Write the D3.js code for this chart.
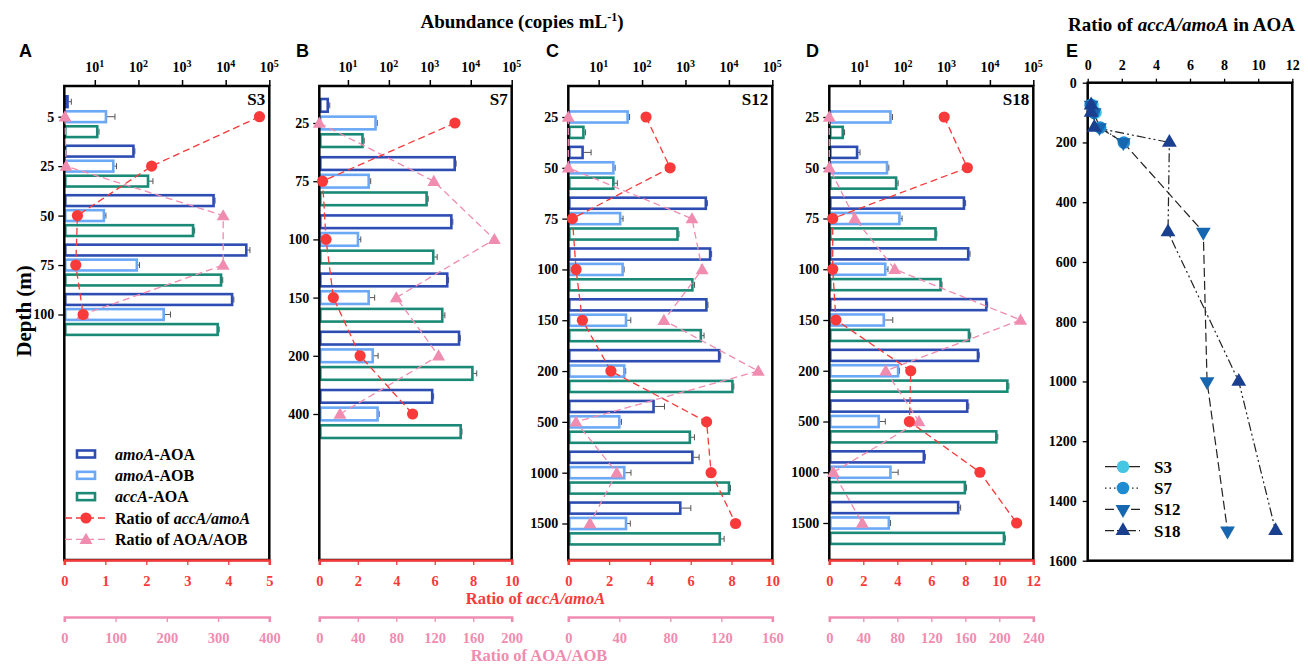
<!DOCTYPE html>
<html>
<head>
<meta charset="utf-8">
<script src="https://cdn.jsdelivr.net/npm/d3@7"></script>
<style>
  body { margin: 0; background: #fff; }
  text { font-family: "Liberation Serif", "Times New Roman", serif; font-weight: bold; }
</style>
</head>
<body>
<script>
var W = 1308, H = 667;
var RED = '#f83a3a', PINK = '#f08cb0', NAVY = '#2d4db3', SKY = '#6ba8f6', TEAL = '#1a8a77';

// ---- data ----
var depthsS3 = [5, 25, 50, 75, 100];
var depthsS7 = [25, 75, 100, 150, 200, 400];
var depthsS12 = [25, 50, 75, 100, 150, 200, 500, 1000, 1500];
var depthsS18 = [25, 50, 75, 100, 150, 200, 500, 1000, 1500];

// copies per mL, null = no bar
var aoaS3 = [2.5, 81, 5560, 31300, 14800];
var aoaSdS3 = [0.4, 2, 150, 4700, 600];
var aobS3 = [19, 28, 17, 97, 400];
var aobSdS3 = [10, 3.5, 1, 9, 145];
var accS3 = [12, 175, 1885, 8260, 6900];
var accSdS3 = [0.5, 40, 60, 300, 200];
var ratioAccS3 = [4.76, 2.13, 0.32, 0.28, 0.46];
var ratioAobS3 = [1.4, 3.3, 310, 310, 36];

var aoaS7 = [3.4, 4290, 3550, 2820, 5470, 1210];
var aoaSdS7 = [0.2, 100, 100, 50, 100, 30];
var aobS7 = [50, 34, 18.6, 34, 42.6, 56];
var aobSdS7 = [2, 2, 2, 11, 12, 2];
var accS7 = [24, 883, 1283, 2130, 11600, 6000];
var accSdS7 = [1, 30, 230, 200, 2400, 100];
var ratioAccS7 = [7.05, 0.17, 0.35, 0.73, 2.12, 4.85];
var ratioAobS7 = [0, 119, 182, 80, 124, 21.5];

var aoaS12 = [null, 4.5, 3100, 3900, 3200, 6300, 194, 1520, 800];
var aoaSdS12 = [0, 2.2, 100, 100, 100, 200, 135, 540, 530];
var aobS12 = [49, 23, 33, 37.6, 45, 41, 31.5, 41, 45];
var aobSdS12 = [2.5, 1, 3.5, 1, 10, 1, 2, 14.6, 8.6];
var accS12 = [4.7, 23, 690, 1520, 2380, 12700, 1330, 10600, 6500];
var accSdS12 = [0.3, 4, 20, 100, 300, 300, 280, 300, 1270];
var ratioAccS12 = [3.81, 4.99, 0.2, 0.38, 0.69, 2.09, 6.78, 7.0, 8.2];
var ratioAobS12 = [0, 0, 97, 105, 75, 149, 6, 38, 17];

var aoaS18 = [null, 9.2, 2660, 3340, 8700, 5600, 3170, 317, 1960];
var aoaSdS18 = [0, 1, 100, 150, 200, 100, 100, 10, 160];
var aobS18 = [54, 45, 87, 41, 38, 81, 29, 54, 49.5];
var aobSdS18 = [3, 2, 8, 4, 20, 2, 10, 23, 2];
var accS18 = [4.3, 73, 590, 770, 3470, 26600, 14800, 2800, 22200];
var accSdS18 = [0.2, 4, 10, 20, 150, 800, 400, 100, 500];
var ratioAccS18 = [6.76, 8.12, 0.2, 0.2, 0.39, 4.79, 4.71, 8.86, 11.02];
var ratioAobS18 = [0, 0, 30, 77, 225, 66.4, 105.5, 4.7, 38.8];

// panel E: accA/amoA ratio against depth
var eDepthsS3 = [75, 100];
var eRatioS3 = [0.28, 0.46];
var eDepthsS7 = [75, 100, 150, 200];
var eRatioS7 = [0.17, 0.35, 0.73, 2.12];
var eDepthsS12 = [75, 100, 150, 200, 500, 1000, 1500];
var eRatioS12 = [0.2, 0.38, 0.69, 2.09, 6.78, 7.0, 8.2];
var eDepthsS18 = [75, 100, 150, 200, 500, 1000, 1500];
var eRatioS18 = [0.2, 0.2, 0.39, 4.79, 4.71, 8.86, 11.02];

var logTicks = [10, 100, 1000, 1e4, 1e5];

var svg = d3.select('body').append('svg')
    .attr('xmlns', 'http://www.w3.org/2000/svg')
    .attr('width', W).attr('height', H);

function rich(sel, parts) {
  parts.forEach(function (p) {
    sel.append('tspan').text(p[0]).style('font-style', p[1] ? 'italic' : 'normal');
  });
  return sel;
}

var plotTop = 86, plotBottom = 560, pinkY = 617;

var panels = [
  {letter: 'A', station: 'S3', depths: depthsS3, aoa: aoaS3, aoaSd: aoaSdS3, aob: aobS3, aobSd: aobSdS3,
   acc: accS3, accSd: accSdS3, rAcc: ratioAccS3, rAob: ratioAobS3,
   x0: 64.3, x1: 269.3, yFirst: 116.7, yLast: 314.5, accMax: 5, accStep: 1, aobMax: 400, aobStep: 100, letterX: 19},
  {letter: 'B', station: 'S7', depths: depthsS7, aoa: aoaS7, aoaSd: aoaSdS7, aob: aobS7, aobSd: aobSdS7,
   acc: accS7, accSd: accSdS7, rAcc: ratioAccS7, rAob: ratioAobS7,
   x0: 319.3, x1: 511.7, yFirst: 123, yLast: 414, accMax: 10, accStep: 2, aobMax: 200, aobStep: 40, letterX: 296},
  {letter: 'C', station: 'S12', depths: depthsS12, aoa: aoaS12, aoaSd: aoaSdS12, aob: aobS12, aobSd: aobSdS12,
   acc: accS12, accSd: accSdS12, rAcc: ratioAccS12, rAob: ratioAobS12,
   x0: 568.3, x1: 772.3, yFirst: 117, yLast: 523.5, accMax: 10, accStep: 2, aobMax: 160, aobStep: 40, letterX: 546},
  {letter: 'D', station: 'S18', depths: depthsS18, aoa: aoaS18, aoaSd: aoaSdS18, aob: aobS18, aobSd: aobSdS18,
   acc: accS18, accSd: accSdS18, rAcc: ratioAccS18, rAob: ratioAobS18,
   x0: 829.3, x1: 1033.3, yFirst: 117, yLast: 523, accMax: 12, accStep: 2, aobMax: 240, aobStep: 40, letterX: 806}
];

var tri = d3.symbol().type(d3.symbolTriangle).size(72);
var intFmt = d3.format('~g');

panels.forEach(function (p) {
  var g = svg.append('g');
  var x = d3.scaleLog().domain([2, 1e5]).range([p.x0, p.x1]);
  var y = d3.scalePoint().domain(p.depths).range([p.yFirst, p.yLast]);
  var xr = d3.scaleLinear().domain([0, p.accMax]).range([p.x0, p.x1]);
  var xp = d3.scaleLinear().domain([0, p.aobMax]).range([p.x0, p.x1]);
  var step = y.step() / 3.3, bh = step * 0.72;

  var series = [
    {vals: p.aoa, sd: p.aoaSd, color: NAVY, off: -1},
    {vals: p.aob, sd: p.aobSd, color: SKY, off: 0},
    {vals: p.acc, sd: p.accSd, color: TEAL, off: 1}
  ];

  series.forEach(function (s) {
    var rows = p.depths.map(function (d, i) { return {d: d, v: s.vals[i], sd: s.sd[i]}; })
        .filter(function (r) { return r.v != null; });
    var yc = function (r) { return y(r.d) + s.off * step; };

    // error bars
    g.selectAll(null).data(rows).enter().append('path')
        .attr('d', function (r) {
          var a = x(r.v), b = x(r.v + r.sd), c = yc(r);
          return 'M' + a + ',' + c + 'H' + b + 'M' + b + ',' + (c - 3) + 'V' + (c + 3);
        })
        .attr('stroke', '#555').attr('stroke-width', 1).attr('fill', 'none');

    g.selectAll(null).data(rows).enter().append('rect')
        .attr('x', p.x0 + 1)
        .attr('y', function (r) { return yc(r) - bh / 2; })
        .attr('width', function (r) { return Math.max(0, x(r.v) - p.x0 - 2); })
        .attr('height', bh)
        .attr('fill', '#fff').attr('stroke', s.color).attr('stroke-width', 2.6);
  });

  // frame
  g.append('rect')
      .attr('x', p.x0).attr('y', plotTop)
      .attr('width', p.x1 - p.x0).attr('height', plotBottom - plotTop)
      .attr('fill', 'none').attr('stroke', '#000').attr('stroke-width', 2.5);

  // top log axis
  var ax = g.append('g').attr('transform', 'translate(0,' + plotTop + ')')
      .call(d3.axisTop(x).tickValues(logTicks).tickSize(6).tickFormat(''));
  ax.select('.domain').remove();
  ax.selectAll('line').attr('stroke', '#000').attr('stroke-width', 1.5);
  logTicks.forEach(function (v) {
    var t = g.append('text').attr('x', x(v)).attr('y', 71.5)
        .attr('text-anchor', 'middle').style('font-size', '14px');
    t.append('tspan').text('10');
    t.append('tspan').attr('dy', -5).style('font-size', '10px').text(Math.round(Math.log10(v)));
  });

  // depth axis
  var ay = g.append('g').attr('transform', 'translate(' + p.x0 + ',0)')
      .call(d3.axisLeft(y).tickSize(6).tickPadding(4));
  ay.select('.domain').remove();
  ay.selectAll('line').attr('stroke', '#000').attr('stroke-width', 1.3);
  ay.selectAll('text').style('font-size', '14px').attr('fill', '#000')
      .style('font-family', '"Liberation Serif", serif').style('font-weight', 'bold');

  // ratio axes at the bottom
  var ar = g.append('g').attr('transform', 'translate(0,' + plotBottom + ')')
      .call(d3.axisBottom(xr).tickValues(d3.range(0, p.accMax + 0.01, p.accStep))
        .tickFormat(intFmt).tickSize(5).tickPadding(11));
  ar.select('.domain').attr('stroke', RED).attr('stroke-width', 2.6);
  ar.selectAll('line').attr('stroke', RED).attr('stroke-width', 1.3);
  ar.selectAll('text').attr('fill', RED).style('font-size', '14.5px')
      .style('font-family', '"Liberation Serif", serif').style('font-weight', 'bold');

  var ap = g.append('g').attr('transform', 'translate(0,' + pinkY + ')')
      .call(d3.axisBottom(xp).tickValues(d3.range(0, p.aobMax + 0.01, p.aobStep))
        .tickFormat(intFmt).tickSize(5).tickPadding(11));
  ap.select('.domain').attr('stroke', PINK).attr('stroke-width', 2.6);
  ap.selectAll('line').attr('stroke', PINK).attr('stroke-width', 1.3);
  ap.selectAll('text').attr('fill', PINK).style('font-size', '14.5px')
      .style('font-family', '"Liberation Serif", serif').style('font-weight', 'bold');

  // ratio lines and markers
  var rowsR = p.depths.map(function (d, i) { return {d: d, acc: p.rAcc[i], aob: p.rAob[i]}; });
  var lineAcc = d3.line().x(function (r) { return xr(r.acc); }).y(function (r) { return y(r.d); });
  var lineAob = d3.line().x(function (r) { return xp(r.aob); }).y(function (r) { return y(r.d); });

  g.append('path').datum(rowsR).attr('d', lineAob)
      .attr('fill', 'none').attr('stroke', PINK).attr('stroke-width', 1.3).attr('stroke-dasharray', '7,4');
  g.append('path').datum(rowsR).attr('d', lineAcc)
      .attr('fill', 'none').attr('stroke', RED).attr('stroke-width', 1.3).attr('stroke-dasharray', '7,4');

  g.selectAll(null).data(rowsR).enter().append('path')
      .attr('d', tri)
      .attr('transform', function (r) { return 'translate(' + xp(r.aob) + ',' + (y(r.d) + 1) + ')'; })
      .attr('fill', PINK);
  g.selectAll(null).data(rowsR).enter().append('circle')
      .attr('cx', function (r) { return xr(r.acc); })
      .attr('cy', function (r) { return y(r.d); })
      .attr('r', 5.6).attr('fill', RED);

  g.append('text').attr('x', p.x1 - 4).attr('y', plotTop + 19)
      .attr('text-anchor', 'end').style('font-size', '17px').text(p.station);
  g.append('text').attr('x', p.letterX).attr('y', 57)
      .style('font-family', '"Liberation Sans", Arial, sans-serif').style('font-size', '18px')
      .text(p.letter);
});

// legend in panel A
var legBars = [
  {parts: [['amoA', true], ['-AOA', false]], color: NAVY},
  {parts: [['amoA', true], ['-AOB', false]], color: SKY},
  {parts: [['accA', true], ['-AOA', false]], color: TEAL}
];
var legY = d3.scalePoint().domain(d3.range(5)).range([454, 539.3]);
legBars.forEach(function (l, i) {
  svg.append('rect').attr('x', 77).attr('y', legY(i) - 3.5).attr('width', 18).attr('height', 7)
      .attr('fill', '#fff').attr('stroke', l.color).attr('stroke-width', 2.6);
  rich(svg.append('text').attr('x', 115).attr('y', legY(i)).attr('dy', '0.35em').style('font-size', '16px'), l.parts);
});
svg.append('line').attr('x1', 65).attr('x2', 106).attr('y1', legY(3)).attr('y2', legY(3))
    .attr('stroke', RED).attr('stroke-width', 1.3).attr('stroke-dasharray', '7,4');
svg.append('circle').attr('cx', 86).attr('cy', legY(3)).attr('r', 5.6).attr('fill', RED);
rich(svg.append('text').attr('x', 115).attr('y', legY(3)).attr('dy', '0.35em').style('font-size', '16px'),
    [['Ratio of ', false], ['accA/amoA', true]]);
svg.append('line').attr('x1', 65).attr('x2', 106).attr('y1', legY(4)).attr('y2', legY(4))
    .attr('stroke', PINK).attr('stroke-width', 1.3).attr('stroke-dasharray', '7,4');
svg.append('path').attr('d', tri).attr('transform', 'translate(86,' + (legY(4) + 1) + ')').attr('fill', PINK);
rich(svg.append('text').attr('x', 115).attr('y', legY(4)).attr('dy', '0.35em').style('font-size', '16px'),
    [['Ratio of AOA/AOB', false]]);

// titles
var t1 = svg.append('text').attr('x', 522).attr('y', 28).attr('text-anchor', 'middle').style('font-size', '19px');
t1.append('tspan').text('Abundance (copies mL');
t1.append('tspan').attr('dy', -7).style('font-size', '12px').text('-1');
t1.append('tspan').attr('dy', 7).text(')');

rich(svg.append('text').attr('x', 535.5).attr('y', 604).attr('text-anchor', 'middle')
    .attr('fill', RED).style('font-size', '16.5px'), [['Ratio of ', false], ['accA/amoA', true]]);
svg.append('text').attr('x', 539).attr('y', 661).attr('text-anchor', 'middle')
    .attr('fill', PINK).style('font-size', '16.5px').text('Ratio of AOA/AOB');

svg.append('text').attr('transform', 'translate(31,311) rotate(-90)').attr('text-anchor', 'middle')
    .style('font-size', '21px').text('Depth (m)');

// ---- panel E ----
var ex = d3.scaleLinear().domain([0, 12]).range([1087.7, 1292.3]);
var ey = d3.scaleLinear().domain([0, 1600]).range([82.7, 560.7]);
var eg = svg.append('g');

eg.append('rect').attr('x', ex(0)).attr('y', ey(0))
    .attr('width', ex(12) - ex(0)).attr('height', ey(1600) - ey(0))
    .attr('fill', 'none').attr('stroke', '#000').attr('stroke-width', 2.5);

var ext = eg.append('g').attr('transform', 'translate(0,' + ey(0) + ')')
    .call(d3.axisTop(ex).tickValues(d3.range(0, 13, 2)).tickSize(4).tickPadding(9));
var eyt = eg.append('g').attr('transform', 'translate(' + ex(0) + ',0)')
    .call(d3.axisLeft(ey).tickValues(d3.range(0, 1601, 200)).tickFormat(d3.format('d')).tickSize(5).tickPadding(6));
[ext, eyt].forEach(function (a) {
  a.select('.domain').remove();
  a.selectAll('line').attr('stroke', '#000').attr('stroke-width', 1.3);
  a.selectAll('text').attr('fill', '#000').style('font-size', '14px')
      .style('font-family', '"Liberation Serif", serif').style('font-weight', 'bold');
});

var eSeries = [
  {name: 'S3', depths: eDepthsS3, vals: eRatioS3, color: '#45c6e3', shape: 'circle', dash: null},
  {name: 'S7', depths: eDepthsS7, vals: eRatioS7, color: '#1f8bd0', shape: 'circle', dash: '1.5,3'},
  {name: 'S12', depths: eDepthsS12, vals: eRatioS12, color: '#1766b0', shape: 'down', dash: '9,4'},
  {name: 'S18', depths: eDepthsS18, vals: eRatioS18, color: '#1b3f8f', shape: 'up', dash: '9,3,2,3,2,3'}
];
var eTri = d3.symbol().type(d3.symbolTriangle).size(95);

function marker(sel, s, cx, cy) {
  if (s.shape === 'circle') {
    sel.append('circle').attr('cx', cx).attr('cy', cy).attr('r', 6.3).attr('fill', s.color);
  } else {
    sel.append('path').attr('d', eTri)
        .attr('transform', 'translate(' + cx + ',' + cy + ')' + (s.shape === 'down' ? ' rotate(180)' : ''))
        .attr('fill', s.color);
  }
}

var eLine = d3.line().x(function (r) { return ex(r.v); }).y(function (r) { return ey(r.d); });
eSeries.forEach(function (s) {
  var rows = s.depths.map(function (d, i) { return {d: d, v: s.vals[i]}; });
  eg.append('path').datum(rows).attr('d', eLine)
      .attr('fill', 'none').attr('stroke', '#222').attr('stroke-width', 1.2)
      .attr('stroke-dasharray', s.dash);
});
eSeries.forEach(function (s) {
  s.depths.forEach(function (d, i) { marker(eg, s, ex(s.vals[i]), ey(d)); });
});

var eLegY = d3.scalePoint().domain(eSeries.map(function (s) { return s.name; })).range([466.7, 530.7]);
eSeries.forEach(function (s) {
  var yy = eLegY(s.name);
  eg.append('line').attr('x1', 1105).attr('x2', 1140).attr('y1', yy).attr('y2', yy)
      .attr('stroke', '#222').attr('stroke-width', 1.2).attr('stroke-dasharray', s.dash);
  marker(eg, s, 1123, yy);
  eg.append('text').attr('x', 1154).attr('y', yy).attr('dy', '0.35em').style('font-size', '17px').text(s.name);
});

rich(svg.append('text').attr('x', 1068).attr('y', 31).style('font-size', '19px'),
    [['Ratio of ', false], ['accA/amoA', true], [' in AOA', false]]);
svg.append('text').attr('x', 1066).attr('y', 57)
    .style('font-family', '"Liberation Sans", Arial, sans-serif').style('font-size', '18px').text('E');
</script>
</body>
</html>
